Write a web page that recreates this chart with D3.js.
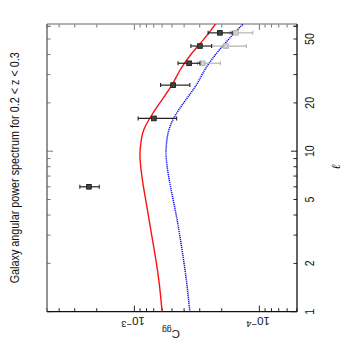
<!DOCTYPE html>
<html><head><meta charset="utf-8">
<script src="https://cdn.jsdelivr.net/npm/d3@7"></script>
<style>html,body{margin:0;padding:0;background:#fff;}svg{display:block;}</style>
</head><body>
<script>
// ---- data (chart drawn rotated: ell runs up the right side, C_gg runs along the bottom) ----
const title = "Galaxy angular power spectrum for 0.2 < z < 0.3";
const ellGrid = [1, 1.5, 2, 3, 4, 5, 7, 9, 10, 12, 13.5, 15.8, 19.8, 25.8, 31.9, 40.5, 49.1, 56.6, 65.3];
const redModel = [6.0e-4, 6.3e-4, 6.64e-4, 7.28e-4, 7.73e-4, 8.13e-4, 8.75e-4, 9.04e-4, 9.04e-4, 8.79e-4, 8.51e-4, 7.66e-4, 6.34e-4, 4.94e-4, 4.38e-4, 3.52e-4, 2.82e-4, 2.44e-4, 2.14e-4];
const blueModel = [3.6e-4, 3.8e-4, 4.0e-4, 4.33e-4, 4.62e-4, 4.9e-4, 5.35e-4, 5.58e-4, 5.6e-4, 5.5e-4, 5.32e-4, 4.95e-4, 4.1e-4, 3.15e-4, 2.78e-4, 2.23e-4, 1.79e-4, 1.52e-4, 1.26e-4];
const ptEll = [6.0, 16.0, 25.8, 35.3, 45.2, 54.6];
const ptC = [2.31e-3, 6.98e-4, 4.9e-4, 3.65e-4, 2.99e-4, 2.07e-4];
const ptHi = [2.73e-3, 9.33e-4, 6.17e-4, 4.47e-4, 3.53e-4, 2.57e-4];
const ptLo = [1.91e-3, 4.59e-4, 3.6e-4, 2.99e-4, 2.41e-4, 1.65e-4];
const grayEll = [35.3, 45.2, 54.6];
const grayC = [2.85e-4, 1.85e-4, 1.54e-4];
const grayHi = [3.12e-4, 2.41e-4, 1.72e-4];
const grayLo = [2.05e-4, 1.27e-4, 1.13e-4];
const ellTickLabels = [1, 2, 5, 10, 20, 50];
const cTickLabels = [{v: 1e-3, e: "\u22123"}, {v: 1e-4, e: "\u22124"}];

const W = 355, H = 344;
const L = 47, R = 297, T = 24, B = 311.7;
const svg = d3.select("body").append("svg").attr("width", W).attr("height", H);

const yEll = d3.scaleLog().domain([1, 62]).range([B, T]);
const xC = d3.scaleLog().domain([5e-3, 5e-5]).range([L, R]);

svg.append("defs").append("clipPath").attr("id", "clip")
  .append("rect").attr("x", L).attr("y", T).attr("width", R - L).attr("height", B - T);

// ticks
const ellTicks = [];
[1, 10].forEach(d => { for (let k = 1; k <= 9; k++) { const v = d * k; if (v <= 62) ellTicks.push({v, major: k === 1}); } });
ellTicks.push({v: 60, major: false});
const cTicks = [];
[1e-5, 1e-4, 1e-3].forEach(d => { for (let k = 1; k <= 9; k++) { const v = d * k; if (v >= 5e-5 && v <= 5e-3) cTicks.push({v, major: k === 1}); } });

const tg = svg.append("g").attr("stroke", "#222").attr("stroke-width", 1);
const ML = 6, mL = 3.5;
ellTicks.forEach(t => {
  const y = yEll(t.v), len = t.major ? ML : mL;
  tg.append("line").attr("x1", R).attr("x2", R - len).attr("y1", y).attr("y2", y);
  tg.append("line").attr("x1", L).attr("x2", L + len).attr("y1", y).attr("y2", y).attr("stroke", "#777");
});
cTicks.forEach(t => {
  const x = xC(t.v), len = t.major ? ML : mL;
  tg.append("line").attr("x1", x).attr("x2", x).attr("y1", B).attr("y2", B - len);
  tg.append("line").attr("x1", x).attr("x2", x).attr("y1", T).attr("y2", T + len).attr("stroke", "#777");
});

// frame
svg.append("line").attr("x1", L).attr("x2", R).attr("y1", T).attr("y2", T).attr("stroke", "#999").attr("stroke-width", 1.6);
svg.append("line").attr("x1", L).attr("x2", L).attr("y1", T).attr("y2", B).attr("stroke", "#666").attr("stroke-width", 1.4);
svg.append("line").attr("x1", R).attr("x2", R).attr("y1", T).attr("y2", B).attr("stroke", "#111").attr("stroke-width", 1.3);
svg.append("line").attr("x1", L).attr("x2", R).attr("y1", B).attr("y2", B).attr("stroke", "#111").attr("stroke-width", 1.3);

// model curves
const line = d3.line().x(d => xC(d[1])).y(d => yEll(d[0])).curve(d3.curveBasis);
const plot = svg.append("g").attr("clip-path", "url(#clip)");
plot.append("path").attr("d", line(ellGrid.map((e, i) => [e, blueModel[i]])))
  .attr("fill", "none").attr("stroke", "#0a0aff").attr("stroke-width", 1.5).attr("stroke-dasharray", "1.2,0.8");
plot.append("path").attr("d", line(ellGrid.map((e, i) => [e, redModel[i]])))
  .attr("fill", "none").attr("stroke", "#ff1010").attr("stroke-width", 1.4);

// data points with error bars
function drawPts(ells, cs, his, los, col, fill) {
  const g = svg.append("g");
  ells.forEach((e, i) => {
    const y = yEll(e), x0 = xC(his[i]), x1 = xC(los[i]), x = xC(cs[i]);
    g.append("line").attr("x1", x0).attr("x2", x1).attr("y1", y).attr("y2", y).attr("stroke", col).attr("stroke-width", 1.2);
    [x0, x1].forEach(xx => g.append("line").attr("x1", xx).attr("x2", xx).attr("y1", y - 2).attr("y2", y + 2).attr("stroke", col).attr("stroke-width", 1.1));
    g.append("rect").attr("x", x - 2.3).attr("y", y - 2.3).attr("width", 4.6).attr("height", 4.6)
      .attr("fill", fill).attr("stroke", col).attr("stroke-width", 1);
  });
}
drawPts(grayEll, grayC, grayHi, grayLo, "#b4b4b4", "#d0d0d0");
drawPts(ptEll, ptC, ptHi, ptLo, "#222", "#444");

// ell tick labels (rotated)
const font = "'Liberation Sans', Arial, sans-serif";
ellTickLabels.forEach(v => {
  svg.append("g").attr("transform", `translate(314,${yEll(v)}) rotate(-90) scale(0.85,1)`)
    .append("text").attr("text-anchor", "middle").attr("font-family", font).attr("font-size", 12.5)
    .attr("fill", "#111").text(v);
});
// C tick labels (upside down)
cTickLabels.forEach(t => {
  const tx = svg.append("g").attr("transform", `translate(${xC(t.v)},316.5) rotate(180)`)
    .append("text").attr("x", -10.5).attr("text-anchor", "start").attr("font-family", font).attr("font-size", 11.5).attr("fill", "#111");
  tx.append("tspan").text("10");
  tx.append("tspan").attr("dy", -4.5).attr("font-size", 9.5).text(t.e);
});
// axis labels
const cl = svg.append("g").attr("transform", "translate(171,329.5) rotate(180)")
  .append("text").attr("text-anchor", "middle").attr("font-family", font).attr("font-size", 11.5).attr("fill", "#111");
cl.append("tspan").text("C");
cl.append("tspan").attr("dy", 3).attr("font-size", 8.5).text("gg");

svg.append("g").attr("transform", "translate(340,167) rotate(-90)")
  .append("text").attr("text-anchor", "middle").attr("font-family", "'DejaVu Serif', serif").attr("font-style", "italic")
  .attr("font-size", 12).attr("fill", "#111").text("\u2113");

svg.append("g").attr("transform", "translate(18.5,167.8) rotate(-90)")
  .append("text").attr("text-anchor", "middle").attr("font-family", font).attr("font-size", 12)
  .attr("textLength", 231).attr("lengthAdjust", "spacingAndGlyphs").attr("fill", "#111").text(title);
</script>
</body></html>
